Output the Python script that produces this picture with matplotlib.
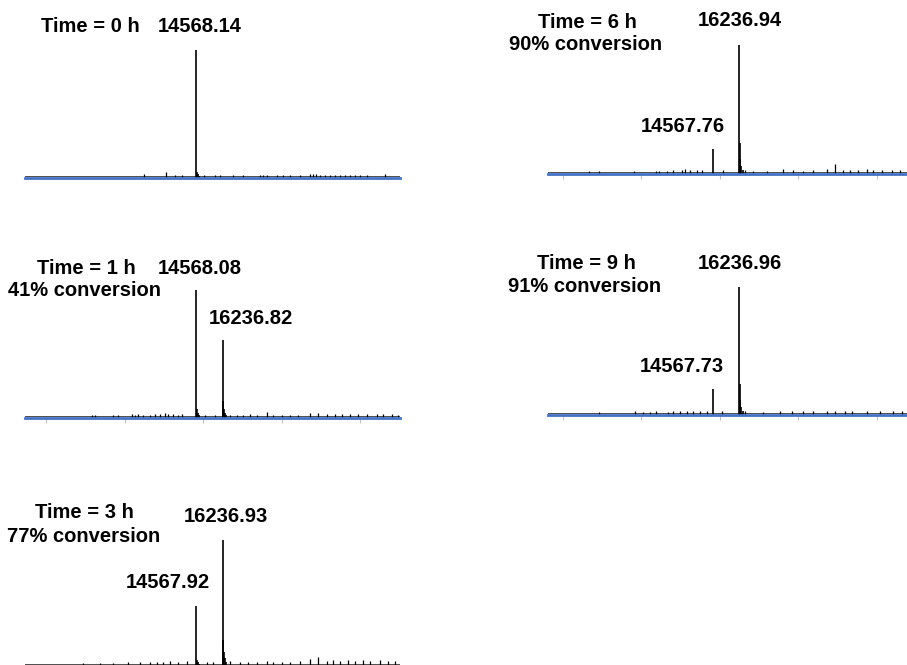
import matplotlib
matplotlib.use('Agg')
from matplotlib import pyplot as plt

plt.rcParams['font.family'] = ['Liberation Sans', 'DejaVu Sans']

W, H = 907, 665

# ---- data: stick spectra (mass in Da, intensity relative to base peak) ----
# Time = 0 h
t0_peak_mass = [14568.14, 14600, 14640, 14700]
t0_peak_int = [1.0, 0.05, 0.03, 0.015]
t0_noise_mass = [11224, 12625, 13198, 13644, 15046, 15746, 16065, 16893, 17530, 18613,
                 18800, 19059, 19696, 20078, 20524, 21161, 21798, 22000, 22200, 22435,
                 22753, 23072, 23390, 23709, 24028, 24346, 24665, 24983, 25429, 26575]
t0_noise_int = [0.03, 0.045, 0.025, 0.025, 0.025, 0.022, 0.022, 0.022, 0.025, 0.022,
                0.025, 0.022, 0.022, 0.025, 0.025, 0.022, 0.028, 0.035, 0.028, 0.025,
                0.022, 0.025, 0.022, 0.025, 0.025, 0.022, 0.022, 0.025, 0.022, 0.035]

# Time = 1 h
t1_peak_mass = [14568.08, 14600, 14640, 14700, 16236.82, 16270, 16310, 16370, 16450]
t1_peak_int = [1.0, 0.07, 0.04, 0.02, 0.61, 0.13, 0.07, 0.04, 0.02]
t1_noise_mass = [7911, 8102, 9249, 9568, 10459, 10650, 10842, 11160, 11606, 11924,
                 12243, 12561, 12752, 13071, 13390, 13644, 15109, 15746, 16702, 17148,
                 17530, 17976, 18422, 19059, 19441, 20014, 20524, 21034, 21798, 22308,
                 22881, 23390, 23836, 24346, 24856, 25429, 26066, 26448, 27021, 27404]
t1_noise_int = [0.025, 0.025, 0.022, 0.022, 0.028, 0.025, 0.028, 0.025, 0.025, 0.028,
                0.028, 0.042, 0.028, 0.028, 0.025, 0.028, 0.025, 0.022, 0.025, 0.025,
                0.025, 0.028, 0.025, 0.045, 0.025, 0.025, 0.025, 0.025, 0.04, 0.04,
                0.028, 0.028, 0.032, 0.028, 0.032, 0.028, 0.028, 0.032, 0.028, 0.025]

# Time = 3 h
t3_peak_mass = [14567.92, 14600, 14640, 14700, 16236.93, 16270, 16310, 16370, 16450]
t3_peak_int = [0.48, 0.05, 0.03, 0.015, 1.0, 0.21, 0.11, 0.06, 0.03]
t3_noise_mass = [7338, 8421, 9249, 10205, 10969, 11606, 12052, 12434, 12880, 13390,
                 13963, 15237, 15619, 16702, 17339, 17849, 18422, 19059, 19441, 20014,
                 20524, 21161, 21798, 22308, 22881, 23263, 23709, 24219, 24665, 25174,
                 25620, 26257, 26767, 27212]
t3_noise_int = [0.022, 0.025, 0.025, 0.03, 0.03, 0.035, 0.03, 0.035, 0.04, 0.035,
                0.04, 0.035, 0.035, 0.04, 0.03, 0.035, 0.035, 0.04, 0.03, 0.035,
                0.03, 0.04, 0.055, 0.07, 0.04, 0.045, 0.04, 0.05, 0.04, 0.045,
                0.04, 0.045, 0.04, 0.04]

# Time = 6 h
t6_peak_mass = [14567.76, 16236.94, 16270, 16310, 16370, 16450]
t6_peak_int = [0.19, 1.0, 0.24, 0.12, 0.06, 0.03]
t6_noise_mass = [6669, 7306, 9536, 10937, 11128, 11638, 12020, 12593, 12784, 13103,
                 13549, 13867, 15205, 16606, 17116, 18008, 19027, 19664, 20301, 20938,
                 21830, 22339, 22849, 23295, 23805, 24378, 24760, 25333, 25970, 26480]
t6_noise_int = [0.02, 0.02, 0.02, 0.025, 0.025, 0.025, 0.028, 0.028, 0.035, 0.028,
                0.028, 0.028, 0.028, 0.028, 0.025, 0.025, 0.035, 0.028, 0.025, 0.028,
                0.04, 0.075, 0.028, 0.028, 0.032, 0.035, 0.028, 0.032, 0.028, 0.032]

# Time = 9 h
t9_peak_mass = [14567.73, 16236.96, 16270, 16310, 16370, 16450]
t9_peak_int = [0.2, 1.0, 0.24, 0.12, 0.06, 0.03]
t9_noise_mass = [7306, 9599, 10109, 10555, 10937, 11701, 12020, 12466, 12912, 13294,
                 13740, 14186, 15141, 16606, 17753, 18836, 19600, 20301, 20938, 21830,
                 22339, 22976, 23422, 24378, 25206, 26034, 26607]
t9_noise_int = [0.025, 0.032, 0.025, 0.025, 0.028, 0.025, 0.028, 0.028, 0.028, 0.028,
                0.028, 0.028, 0.028, 0.028, 0.025, 0.028, 0.028, 0.028, 0.032, 0.032,
                0.035, 0.028, 0.032, 0.035, 0.032, 0.035, 0.032]

mass_ticks = [5000, 10000, 15000, 20000, 25000]

# ---- labels ----
time_labels = ['Time = 0 h', 'Time = 1 h', 'Time = 3 h', 'Time = 6 h', 'Time = 9 h']
conv_labels = ['', '41% conversion', '77% conversion', '90% conversion', '91% conversion']
peak_labels = [['14568.14'], ['14568.08', '16236.82'], ['14567.92', '16236.93'],
               ['14567.76', '16236.94'], ['14567.73', '16236.96']]

fig = plt.figure(figsize=(W / 100, H / 100), dpi=100)


def px_axes(x0, baseline, width, height=128):
    return fig.add_axes([x0 / W, 1 - baseline / H, width / W, height / H])


def ftext(x, y, s):
    fig.text(x / W, 1 - y / H, s, ha='center', va='center',
             fontsize=14.5, fontweight='bold', color='black')


def spectrum(ax, pm, pi, nm, ni, xlim, ticks=True):
    ax.axhline(0.012, color='0.3', lw=0.7)
    ax.vlines(nm, 0, ni, color='black', lw=0.9, clip_on=False)
    ax.vlines(pm, 0, pi, color='black', lw=1.2, clip_on=False)
    ax.set_xlim(*xlim)
    ax.set_ylim(0, 1)
    for s in ['top', 'left', 'right']:
        ax.spines[s].set_visible(False)
    ax.spines['bottom'].set_color('#4472C4')
    ax.spines['bottom'].set_linewidth(2.0)
    ax.set_yticks([])
    if ticks:
        ax.set_xticks(mass_ticks)
        ax.tick_params(axis='x', direction='out', length=3.5, width=0.8,
                       color='#c0c0c0', labelbottom=False)
    else:
        ax.set_xticks([])
    ax.patch.set_visible(False)


left_lim = (3644, 27531)
right_lim = (4058, 26926)

ax1 = px_axes(25, 178, 375)
spectrum(ax1, t0_peak_mass, t0_peak_int, t0_noise_mass, t0_noise_int, left_lim, ticks=False)

ax3 = px_axes(25, 418, 375)
spectrum(ax3, t1_peak_mass, t1_peak_int, t1_noise_mass, t1_noise_int, left_lim)

ax5 = px_axes(25, 666, 375, 126)
spectrum(ax5, t3_peak_mass, t3_peak_int, t3_noise_mass, t3_noise_int, left_lim)

ax2 = px_axes(548, 174, 359, 129)
spectrum(ax2, t6_peak_mass, t6_peak_int, t6_noise_mass, t6_noise_int, right_lim)

ax4 = px_axes(548, 415, 359)
spectrum(ax4, t9_peak_mass, t9_peak_int, t9_noise_mass, t9_noise_int, right_lim)

# panel labels
ftext(90, 27, time_labels[0])
ftext(200, 27, peak_labels[0][0])

ftext(86, 268, time_labels[1])
ftext(85, 291, conv_labels[1])
ftext(200, 268, peak_labels[1][0])
ftext(251, 319, peak_labels[1][1])

ftext(84, 513, time_labels[2])
ftext(84, 536, conv_labels[2])
ftext(168, 583, peak_labels[2][0])
ftext(226, 516, peak_labels[2][1])

ftext(587, 22, time_labels[3])
ftext(586, 45, conv_labels[3])
ftext(683, 126, peak_labels[3][0])
ftext(740, 21, peak_labels[3][1])

ftext(586, 264, time_labels[4])
ftext(585, 287, conv_labels[4])
ftext(682, 367, peak_labels[4][0])
ftext(740, 264, peak_labels[4][1])

fig.savefig('out.png', dpi=100)
